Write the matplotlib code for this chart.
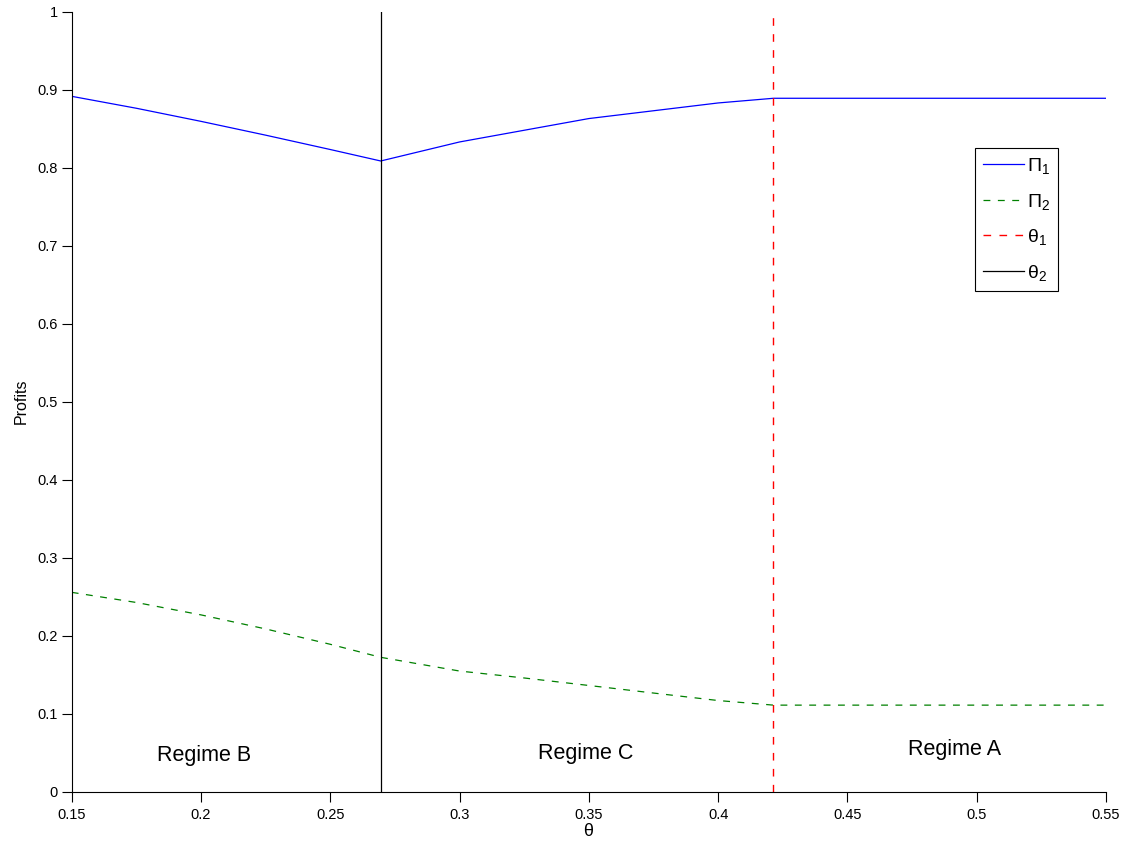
import matplotlib
matplotlib.use('Agg')
import matplotlib.pyplot as plt
from matplotlib.ticker import FuncFormatter

plt.rcParams['mathtext.default'] = 'regular'
plt.rcParams['font.family'] = ['Liberation Sans', 'DejaVu Sans']

# thresholds
theta1 = 0.4214
theta2 = 0.2695

# regime B (theta < theta2), regime C (theta2..theta1), regime A (theta > theta1)
theta_B = [0.15, 0.175, 0.2, 0.225, 0.25, theta2]
pi1_B = [0.8915, 0.8762, 0.8594, 0.8417, 0.8233, 0.8086]
pi2_B = [0.2556, 0.2426, 0.2267, 0.2087, 0.1890, 0.1723]

theta_C = [theta2, 0.3, 0.325, 0.35, 0.375, 0.4, theta1]
pi1_C = [0.8086, 0.833, 0.848, 0.863, 0.873, 0.883, 0.889]
pi2_C = [0.1723, 0.1547, 0.1458, 0.1362, 0.1265, 0.1169, 0.111]

theta_A = [theta1, 0.55]
pi1_A = [0.889, 0.889]
pi2_A = [0.111, 0.111]

theta = theta_B + theta_C[1:] + theta_A[1:]
pi1 = pi1_B + pi1_C[1:] + pi1_A[1:]
pi2 = pi2_B + pi2_C[1:] + pi2_A[1:]

regimes = ['Regime B', 'Regime C', 'Regime A']
regime_x = [0.2011, 0.3488, 0.4916]
regime_y = [0.047, 0.0496, 0.0535]

fig = plt.figure(figsize=(11.24, 8.41), dpi=100)
ax = fig.add_axes([0.0638, 0.0586, 0.9202, 0.9275])

dash = (5.5, 6)
ax.plot(theta, pi1, color='#0000ff', lw=0.9, label=r'$\Pi_1$')
ax.plot(theta, pi2, color='#008000', lw=0.9, dashes=dash, label=r'$\Pi_2$')
ax.plot([theta1, theta1], [0, 0.996], color='#ff0000', lw=1.0, dashes=dash, label=r'$\theta_1$')
ax.plot([theta2, theta2], [0, 1], color='black', lw=0.9, label=r'$\theta_2$')

for t, x, y in zip(regimes, regime_x, regime_y):
    ax.text(x, y, t, fontsize=15.5, ha='center', va='center')

ax.set_xlim(0.15, 0.55)
ax.set_ylim(0, 1)
ax.set_xticks([0.15, 0.2, 0.25, 0.3, 0.35, 0.4, 0.45, 0.5, 0.55])
ax.set_yticks([i / 10 for i in range(11)])
fmt = FuncFormatter(lambda v, p: '%g' % round(v, 2))
ax.xaxis.set_major_formatter(fmt)
ax.yaxis.set_major_formatter(fmt)
ax.tick_params(direction='out', length=7, width=0.8, labelsize=10.5)
ax.tick_params(axis='x', pad=4.5)
ax.tick_params(axis='y', pad=3)

ax.spines['top'].set_visible(False)
ax.spines['right'].set_visible(False)

ax.set_xlabel(r'$\theta$', fontsize=13, labelpad=1)
ax.set_ylabel('Profits', fontsize=11.5, labelpad=6)

leg = ax.legend(loc='upper left', bbox_to_anchor=(0.8733, 0.8253), fontsize=14,
                handlelength=2.1, labelspacing=0.8, fancybox=False, framealpha=1,
                edgecolor='black', borderpad=0.42, handletextpad=0.15, borderaxespad=0)
leg.get_frame().set_linewidth(0.8)

fig.savefig('out.png', dpi=100)
